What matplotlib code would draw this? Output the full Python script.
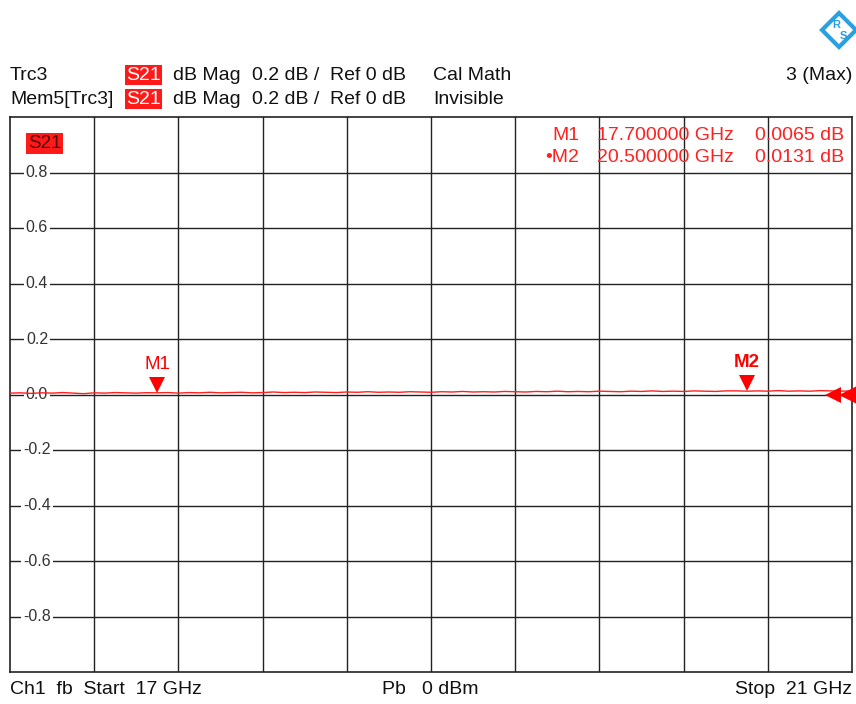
import numpy as np
import matplotlib.pyplot as plt
from matplotlib.patches import Polygon

plt.rcParams['font.family'] = ['Liberation Sans', 'DejaVu Sans']

# ---- data ----
f_start, f_stop = 17.0, 21.0
y_ticks = [0.8, 0.6, 0.4, 0.2, 0.0, -0.2, -0.4, -0.6, -0.8]
trace_db = [0.005, 0.006, 0.004, 0.006, 0.005, 0.007, 0.005, 0.003, 0.006, 0.005,
            0.007, 0.006, 0.005, 0.0065, 0.006, 0.007, 0.005, 0.007, 0.006, 0.008,
            0.006, 0.007, 0.008, 0.006, 0.007, 0.009, 0.007, 0.008, 0.007, 0.009,
            0.008, 0.007, 0.009, 0.008, 0.010, 0.008, 0.009, 0.008, 0.010, 0.009,
            0.008, 0.010, 0.009, 0.011, 0.009, 0.010, 0.009, 0.011, 0.010, 0.009,
            0.011, 0.010, 0.012, 0.010, 0.011, 0.010, 0.012, 0.011, 0.010, 0.012,
            0.011, 0.013, 0.011, 0.012, 0.011, 0.013, 0.012, 0.011, 0.013, 0.0131,
            0.012, 0.013, 0.012, 0.014, 0.012, 0.013, 0.012, 0.014, 0.013, 0.012,
            0.013]
freq = np.linspace(f_start, f_stop, len(trace_db))
markers = [("M1", 17.7, 0.0065, False), ("M2", 20.5, 0.0131, True)]
marker_table = [("M1", "17.700000 GHz", "0.0065 dB"),
                ("\u2022M2", "20.500000 GHz", "0.0131 dB")]

W, H = 856, 704
fig = plt.figure(figsize=(W / 100, H / 100), dpi=100)
def fx(x): return x / W
def fy(y): return 1 - y / H
def fdata(px): return f_start + (px - 10) / 842 * (f_stop - f_start)

ax = fig.add_axes([fx(10), fy(672), (852 - 10) / W, (672 - 117) / H])
ax.set_xlim(f_start, f_stop)
ax.set_ylim(-1.0, 1.0)
ax.set_xticks([])
ax.set_yticks([])
for s in ax.spines.values():
    s.set_color('#222222')
    s.set_linewidth(1.2)

# grid
for xv in np.linspace(f_start, f_stop, 11)[1:-1]:
    ax.axvline(xv, color='#222222', lw=1.0, zorder=1)
for yv in y_ticks:
    ax.axhline(yv, color='#222222', lw=1.0, zorder=1)
    ax.text(fdata(37), yv, f"{yv:.1f}", ha='center', va='center', fontsize=11.5,
            color='#333333', zorder=2,
            bbox=dict(facecolor='white', edgecolor='none', pad=1.5))

# trace
ax.plot(freq, trace_db, color='#ff2020', lw=1.0, zorder=4)

# markers
for name, fm, vm, bold in markers:
    ax.plot([fm], [vm + 0.028], marker='v', markersize=12, color='#ff0000',
            markeredgewidth=0, zorder=5)
    ax.text(fm, vm + 0.07, name, ha='center', va='bottom', fontsize=13.5,
            color='#ff0000', fontweight='bold' if bold else 'normal', zorder=5)

# reference position triangles at right edge
ax.plot([fdata(833)], [0.0], marker='<', markersize=12, color='#ff0000',
        markeredgewidth=0, clip_on=False, zorder=6)
ax.plot([fdata(849)], [0.0], marker='<', markersize=15, color='#ff0000',
        markeredgewidth=0, clip_on=False, zorder=6)

# S21 label in plot
ax.text(fdata(28), 0.905, "S21", ha='left', va='center', fontsize=13.5, color='#550000',
        bbox=dict(facecolor='#ff1a1a', edgecolor='none', pad=1.2), zorder=6)

# marker table
fs = 14
for i, (n, f, v) in enumerate(marker_table):
    yy = fy(135 + i * 23)
    fig.text(fx(579), yy, n, ha='right', va='center', fontsize=fs, color='#ff2020')
    fig.text(fx(597), yy, f, ha='left', va='center', fontsize=fs, color='#ff2020')
    fig.text(fx(844), yy, v, ha='right', va='center', fontsize=fs, color='#ff2020')

# header
for i, row in enumerate(["Trc3", "Mem5[Trc3]"]):
    yy = fy(75 + i * 24)
    fig.text(fx(10), yy, row, ha='left', va='center', fontsize=fs, color='#111111')
    fig.text(fx(126), yy, "S21", ha='left', va='center', fontsize=fs, color='white',
             bbox=dict(facecolor='#ff1a1a', edgecolor='none', pad=1.0))
    fig.text(fx(173), yy, "dB Mag", ha='left', va='center', fontsize=fs, color='#111111')
    fig.text(fx(252), yy, "0.2 dB /", ha='left', va='center', fontsize=fs, color='#111111')
    fig.text(fx(330), yy, "Ref 0 dB", ha='left', va='center', fontsize=fs, color='#111111')
fig.text(fx(433), fy(75), "Cal Math", ha='left', va='center', fontsize=fs, color='#111111')
fig.text(fx(433), fy(99), "Invisible", ha='left', va='center', fontsize=fs, color='#111111')
fig.text(fx(852), fy(75), "3 (Max)", ha='right', va='center', fontsize=fs, color='#111111')

# footer
fig.text(fx(10), fy(690), "Ch1  fb  Start  17 GHz", ha='left', va='center', fontsize=fs, color='#111111')
fig.text(fx(382), fy(690), "Pb   0 dBm", ha='left', va='center', fontsize=fs, color='#111111')
fig.text(fx(852), fy(690), "Stop  21 GHz", ha='right', va='center', fontsize=fs, color='#111111')

# R&S logo
cx, cy, r = 839, 30, 17
diamond = Polygon([(fx(cx), fy(cy - r)), (fx(cx + r), fy(cy)), (fx(cx), fy(cy + r)), (fx(cx - r), fy(cy))],
                  closed=True, transform=fig.transFigure, facecolor='white',
                  edgecolor='#2aa0e0', lw=3)
fig.patches.append(diamond)
fig.text(fx(836), fy(25), "R", ha='center', va='center', fontsize=8, color='#2aa0e0', fontweight='bold')
fig.text(fx(843), fy(36), "S", ha='center', va='center', fontsize=8, color='#2aa0e0', fontweight='bold')

fig.savefig("out.png", dpi=100, facecolor='white')
